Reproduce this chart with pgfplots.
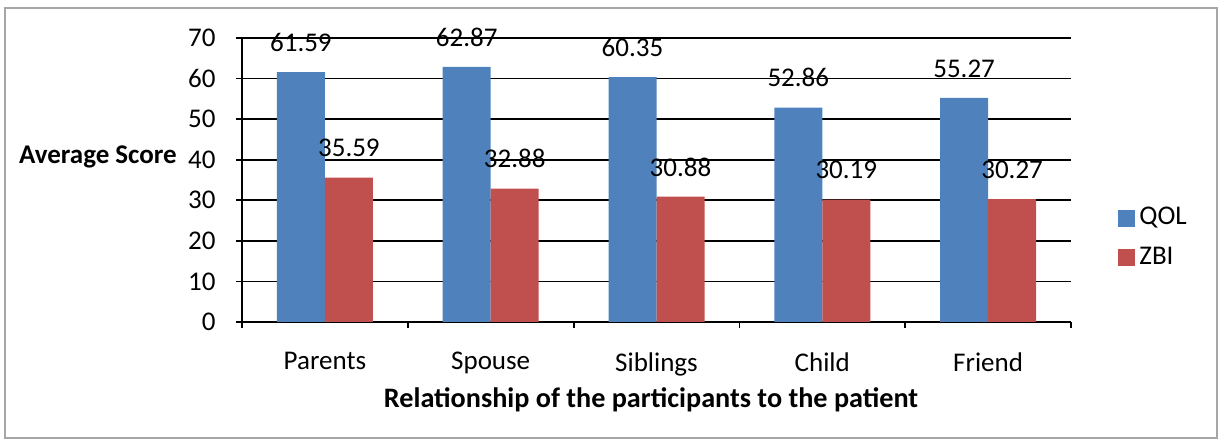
\documentclass[border=0pt]{standalone}
\usepackage{pgfplots}
\pgfplotsset{compat=1.18}
\usepackage{fontspec}
\setmainfont{Carlito}
\definecolor{qol}{HTML}{4F81BD}
\definecolor{zbi}{HTML}{C0504D}
\newcommand{\cfont}{\fontsize{13.5}{16}\selectfont}
\begin{document}
\cfont
\begin{tikzpicture}
\path (0,0) rectangle (610pt,222pt);
\draw[black!35, line width=1pt] (2.5pt,3pt) rectangle (608.5pt,218pt);
\begin{axis}[
  at={(121pt,61pt)}, anchor=south west,
  width=414.5pt, height=142pt, scale only axis,
  ybar=0pt, bar width=24pt,
  xmin=-0.5, xmax=4.5, ymin=0, ymax=70,
  enlargelimits=false,
  axis x line=bottom, axis y line=left,
  axis line style={-, line width=0.9pt, black},
  ytick={0,10,...,70},
  xtick={-0.5,0.5,...,4.5},
  xticklabels={Parents,Spouse,Siblings,Child,Friend},
  x tick label as interval,
  tick align=outside, major tick length=3pt,
  tick style={black, line width=0.9pt},
  ymajorgrids, grid style={black, line width=0.9pt},
  /pgf/number format/assume math mode=true,
  ticklabel style={font=\cfont},
  yticklabel style={xshift=-5.5pt},
  xticklabel style={yshift=-7.5pt},
  nodes near coords,
  every node near coord/.append style={font=\cfont, black, yshift=5.5pt},
  legend style={at={(1.0567,0.419)}, anchor=north west, draw=none, fill=none,
    font=\cfont, row sep=5pt, inner sep=0pt},
  legend cell align=left,
]
\addplot[fill=qol, draw=none, legend image code/.code={\fill[qol] (0pt,-4.25pt) rectangle (8.5pt,4.25pt);}]
  coordinates {(0,61.59) (1,62.87) (2,60.35) (3,52.86) (4,55.27)};
\addplot[fill=zbi, draw=none, legend image code/.code={\fill[zbi] (0pt,-4.25pt) rectangle (8.5pt,4.25pt);}]
  coordinates {(0,35.59) (1,32.88) (2,30.88) (3,30.19) (4,30.27)};
\legend{QOL,ZBI}
\end{axis}
\node[font=\bfseries\cfont] at (49pt,143.5pt) {Average Score};
\node[font=\bfseries\fontsize{14.1}{16}\selectfont] at (325.5pt,22pt) {Relationship of the participants to the patient};
\end{tikzpicture}
\end{document}
